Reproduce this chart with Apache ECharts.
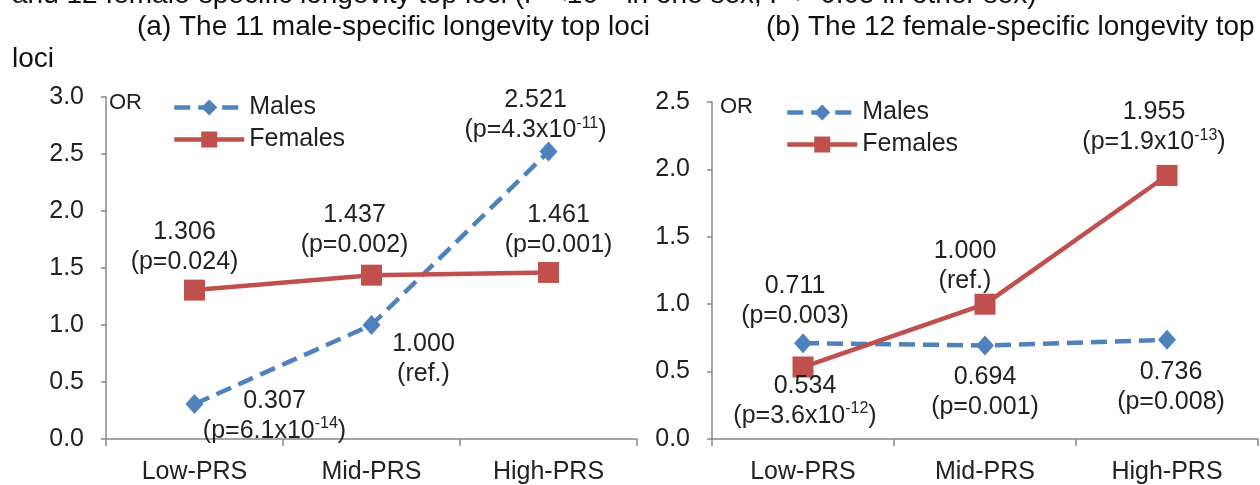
<!DOCTYPE html>
<html>
<head>
<meta charset="utf-8">
<script src="https://cdn.jsdelivr.net/npm/echarts@6/dist/echarts.min.js"></script>
<style>
  html, body { margin: 0; padding: 0; background: #fff; }
  #chart { width: 1260px; height: 485px; }
</style>
</head>
<body>
<div id="chart"></div>
<script>
// categories
var categories = ['Low-PRS', 'Mid-PRS', 'High-PRS'];

// (a) 11 male-specific loci
var maleOR_a = [0.307, 1.000, 2.521];
var femaleOR_a = [1.306, 1.437, 1.461];
var maleP_a = ['6.1x10^-14', 'ref.', '4.3x10^-11'];
var femaleP_a = ['0.024', '0.002', '0.001'];

// (b) 12 female-specific loci
var maleOR_b = [0.711, 0.694, 0.736];
var femaleOR_b = [0.534, 1.000, 1.955];
var maleP_b = ['0.003', '0.001', '0.008'];
var femaleP_b = ['3.6x10^-12', 'ref.', '1.9x10^-13'];

// y axis ticks
var yTicks_a = { min: 0, max: 3.0, interval: 0.5 };
var yTicks_b = { min: 0, max: 2.5, interval: 0.5 };

var BLUE = '#4F81BD';
var RED = '#C0504D';
var FONT = 'Liberation Sans, Arial, sans-serif';

// label offsets (label centre relative to the point)
var offMale_a = [[80, 12], [52, 34], [-13, -36]];
var offFemale_a = [[-10, -43], [-17, -45], [10, -42]];
var offMale_b = [[-8, -42], [0, 47], [4, 47]];
var offFemale_b = [[2, 34], [-20, -38], [-13, -48]];

function pText(p) {
  if (p === 'ref.') return '{n|(ref.)}';
  if (p.indexOf('^') >= 0) {
    var parts = p.split('^');
    return '{n|(p=' + parts[0] + '}{s|' + parts[1] + '}{n|)}';
  }
  return '{n|(p=' + p + ')}';
}

function makeData(values, pvals, offsets) {
  return values.map(function (v, i) {
    return {
      value: v,
      label: {
        offset: offsets[i],
        formatter: '{n|' + v.toFixed(3) + '}\n' + pText(pvals[i])
      }
    };
  });
}

var labelBase = {
  show: true,
  position: 'inside',
  align: 'center',
  verticalAlign: 'middle',
  rich: {
    n: { fontSize: 25, fontFamily: FONT, color: '#222', lineHeight: 30 },
    s: { fontSize: 16, fontFamily: FONT, color: '#222', lineHeight: 30, padding: [0, 0, 14, 0] }
  }
};

function maleSeries(idx, values, pvals, offsets) {
  return {
    name: 'Males', type: 'line', xAxisIndex: idx, yAxisIndex: idx,
    data: makeData(values, pvals, offsets),
    symbol: 'diamond', symbolSize: [18, 20],
    lineStyle: { color: BLUE, width: 4.5, type: [16, 8] },
    itemStyle: { color: BLUE },
    label: labelBase,
    z: 3
  };
}

function femaleSeries(idx, values, pvals, offsets) {
  return {
    name: 'Females', type: 'line', xAxisIndex: idx, yAxisIndex: idx,
    data: makeData(values, pvals, offsets),
    symbol: 'rect', symbolSize: 21,
    lineStyle: { color: RED, width: 4.5 },
    itemStyle: { color: RED },
    label: labelBase,
    z: 4
  };
}

function xAxis(idx) {
  return {
    type: 'category', gridIndex: idx, data: categories, boundaryGap: true,
    axisLine: { lineStyle: { color: '#888', width: 1.5 } },
    axisTick: { show: true, length: 7, lineStyle: { color: '#888', width: 1.5 } },
    axisLabel: { fontSize: 25, fontFamily: FONT, color: '#222', margin: 21 }
  };
}

function yAxis(idx, t) {
  return {
    type: 'value', gridIndex: idx, min: t.min, max: t.max, interval: t.interval,
    axisLine: { show: true, lineStyle: { color: '#888', width: 1.5 } },
    axisTick: { show: true, length: 5, lineStyle: { color: '#888', width: 1.5 } },
    splitLine: { show: false },
    axisLabel: { fontSize: 25, fontFamily: FONT, color: '#222', margin: 22,
      formatter: function (v) { return v.toFixed(1); } }
  };
}

function legend(left, top) {
  return {
    data: ['Males', 'Females'], orient: 'vertical', left: left, top: top,
    itemWidth: 70, itemHeight: 20, itemGap: 7, selectedMode: false,
    lineStyle: { width: 4.5 },
    textStyle: { fontSize: 25, fontFamily: FONT, color: '#222', lineHeight: 23 }
  };
}

var myChart = echarts.init(document.getElementById('chart'));
var option = {
  animation: false,
  textStyle: { fontFamily: FONT },
  grid: [
    { left: 106, top: 97, width: 531, height: 343 },
    { left: 712, top: 102, width: 546, height: 338 }
  ],
  xAxis: [xAxis(0), xAxis(1)],
  yAxis: [yAxis(0, yTicks_a), yAxis(1, yTicks_b)],
  legend: [legend(167, 90), legend(780, 95)],
  graphic: [
    { type: 'text', left: 12, top: -19, style: { text: 'and 12 female-specific longevity top loci (P <10⁻⁵ in one sex, P > 0.05 in other sex)', fontSize: 28, fontFamily: FONT, fill: '#111' } },
    { type: 'text', left: 137, top: 13, style: { text: '(a) The 11 male-specific longevity top loci', fontSize: 28, fontFamily: FONT, fill: '#111' } },
    { type: 'text', left: 766, top: 13, style: { text: '(b) The 12 female-specific longevity top', fontSize: 28, fontFamily: FONT, fill: '#111' } },
    { type: 'text', left: 12, top: 45, style: { text: 'loci', fontSize: 28, fontFamily: FONT, fill: '#111' } },
    { type: 'text', left: 109, top: 92, style: { text: 'OR', fontSize: 22, fontFamily: FONT, fill: '#222' } },
    { type: 'text', left: 720, top: 96, style: { text: 'OR', fontSize: 22, fontFamily: FONT, fill: '#222' } }
  ],
  series: [
    maleSeries(0, maleOR_a, maleP_a, offMale_a),
    femaleSeries(0, femaleOR_a, femaleP_a, offFemale_a),
    maleSeries(1, maleOR_b, maleP_b, offMale_b),
    femaleSeries(1, femaleOR_b, femaleP_b, offFemale_b)
  ]
};
myChart.setOption(option);

window.addEventListener('resize', function () {
  myChart.resize();
});
</script>
</body>
</html>
